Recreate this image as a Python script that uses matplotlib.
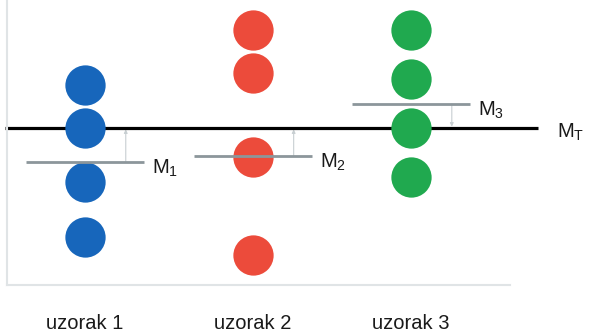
import matplotlib.pyplot as plt

plt.rcParams['font.family'] = ['Liberation Sans', 'DejaVu Sans']
plt.rcParams['mathtext.fontset'] = 'custom'
plt.rcParams['mathtext.rm'] = 'Liberation Sans'

# data
samples = ["uzorak 1", "uzorak 2", "uzorak 3"]
positions = [1.0, 2.03, 3.0]
values = [
    [10.0, 7.85, 5.15, 2.4],
    [12.75, 10.6, 6.4, 1.5],
    [12.75, 10.3, 7.85, 5.4],
]
colors = ["#1766bb", "#ec4b3b", "#20a94f"]
group_means = [6.15, 6.45, 9.05]
mean_labels = ["$\\mathregular{M_1}$", "$\\mathregular{M_2}$", "$\\mathregular{M_3}$"]
total_mean = 7.85

fig = plt.figure(figsize=(5.92, 3.35), dpi=100)
ax = fig.add_axes([7 / 592, 50 / 335, 585 / 592, 285 / 335])
ax.set_xlim(0.5215, 4.11)
ax.set_ylim(0, 14.25)

# total mean line
ax.plot([0.509, 3.779], [total_mean, total_mean], color="black", lw=2.3,
        solid_capstyle="butt", clip_on=False, zorder=2)
ax.text(3.896, total_mean - 0.2, "$\\mathregular{M_T}$", fontsize=14.5,
        va="center", ha="left", color="#1a1a1a", clip_on=False)

for i in range(3):
    x = positions[i]
    ax.plot([x] * len(values[i]), values[i], "o", color=colors[i],
            markersize=29, markeredgewidth=0, zorder=3)
    m = group_means[i]
    ax.plot([x - 0.362, x + 0.362], [m, m], color="#8c969b", lw=2,
            solid_capstyle="butt", zorder=4)
    ax.annotate("", xy=(x + 0.25, total_mean), xytext=(x + 0.25, m),
                arrowprops=dict(arrowstyle="-|>", color="#c8cfd2", lw=0.8,
                                mutation_scale=5, shrinkA=0, shrinkB=1),
                zorder=1)
    ax.text(x + 0.41, m - 0.3, mean_labels[i], fontsize=14.5,
            va="center", ha="left", color="#1a1a1a")

ax.set_xticks(positions, samples)
ax.tick_params(axis="x", length=0, pad=21, labelsize=14.5,
               labelcolor="#1a1a1a")
ax.set_yticks([])
for side in ["top", "right"]:
    ax.spines[side].set_visible(False)
for side in ["left", "bottom"]:
    ax.spines[side].set_color("#e0e4e6")
    ax.spines[side].set_linewidth(1.5)
ax.spines["bottom"].set_bounds(0.5215, 3.607)

fig.savefig("out.png", dpi=100)
